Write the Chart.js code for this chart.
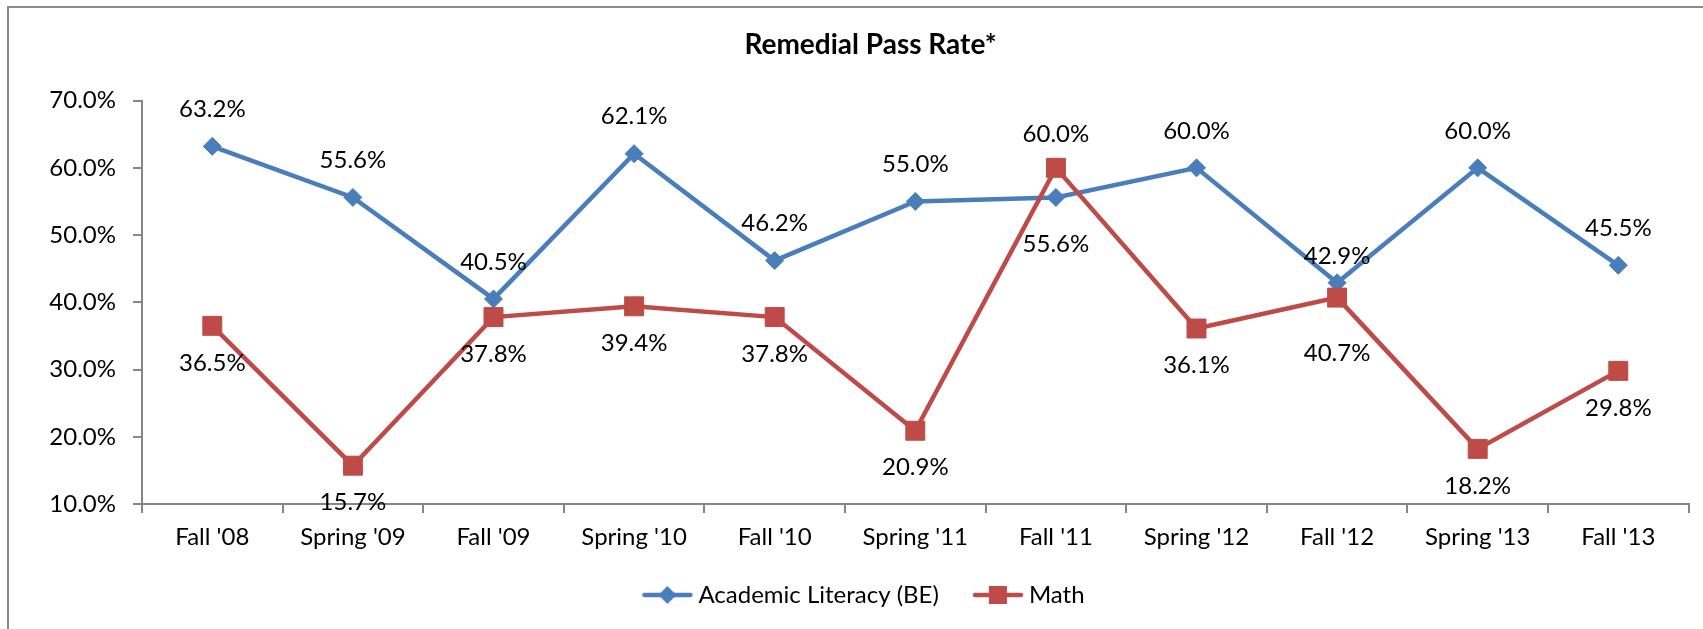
<!DOCTYPE html>
<html>
<head>
<meta charset="utf-8">
<title>Remedial Pass Rate</title>
<script src="https://cdn.jsdelivr.net/npm/chart.js@4"></script>
<style>
  html, body { margin: 0; padding: 0; background: #fff; overflow: hidden; }
  #marco { position: absolute; left: 7px; top: 6px; width: 1720px; height: 660px; border: 2px solid #8a8a8a; }
  #contenedor { position: absolute; left: 0; top: 0; width: 1703px; height: 629px; }
</style>
</head>
<body>
<div id="marco"></div>
<div id="contenedor"><canvas id="tasaAprobacion"></canvas></div>
<script>
// Datos
const periodos = ["Fall '08", "Spring '09", "Fall '09", "Spring '10", "Fall '10", "Spring '11",
                  "Fall '11", "Spring '12", "Fall '12", "Spring '13", "Fall '13"];
const lecturaAcademica = [63.2, 55.6, 40.5, 62.1, 46.2, 55.0, 55.6, 60.0, 42.9, 60.0, 45.5];
const matematicas = [36.5, 15.7, 37.8, 39.4, 37.8, 20.9, 60.0, 36.1, 40.7, 18.2, 29.8];
const marcasY = [10, 20, 30, 40, 50, 60, 70];

const azul = "#4a7ebb";
const rojo = "#be4b48";
const gris = "#868686";

Chart.defaults.font.family = "Lato";
Chart.defaults.color = "#000";

// Distancia vertical de cada etiqueta a su punto
const desplazamiento = (serie, i) => {
    if (i === 6) return serie === 0 ? 47 : -34;   // Fall '11 va al revés
    if (i === 8) return serie === 0 ? -27 : 56;
    return serie === 0 ? -37 : 37;
};

const etiquetasDatos = {
    id: "etiquetasDatos",
    afterDatasetsDraw(chart) {
        const ctx = chart.ctx;
        ctx.save();
        ctx.font = "24px Lato";
        ctx.fillStyle = "#000";
        ctx.textAlign = "center";
        ctx.textBaseline = "middle";
        chart.data.datasets.forEach((ds, s) => {
            chart.getDatasetMeta(s).data.forEach((pt, i) => {
                ctx.fillText(ds.data[i].toFixed(1) + "%", pt.x, pt.y + desplazamiento(s, i));
            });
        });
        ctx.restore();
    }
};

// Leyenda un poco más arriba y a la derecha; título algo a la derecha
const ajustarCajas = {
    id: "ajustarCajas",
    afterLayout(chart) {
        const l = chart.legend;
        l.top -= 12; l.bottom -= 12;
        l.left += 20; l.right += 20;
        const t = chart.titleBlock;
        t.left += 24; t.right += 24;
    }
};

// Muestra de leyenda: línea con marcador, como en Excel
const muestra = (color, forma) => {
    const c = document.createElement("canvas");
    c.width = 52; c.height = 22;
    const ctx = c.getContext("2d");
    ctx.strokeStyle = color;
    ctx.fillStyle = color;
    ctx.lineWidth = 4.5;
    ctx.lineCap = "round";
    ctx.beginPath(); ctx.moveTo(3, 11); ctx.lineTo(49, 11); ctx.stroke();
    ctx.beginPath();
    if (forma === "rombo") {
        ctx.moveTo(26, 2); ctx.lineTo(35, 11); ctx.lineTo(26, 20); ctx.lineTo(17, 11);
    } else {
        ctx.rect(17, 2, 18, 18);
    }
    ctx.fill();
    return c;
};

new Chart(document.getElementById("tasaAprobacion"), {
    type: "line",
    data: {
        labels: periodos,
        datasets: [{
            label: "Academic Literacy (BE)",
            data: lecturaAcademica,
            borderColor: azul,
            backgroundColor: azul,
            borderWidth: 4.5,
            tension: 0,
            pointStyle: "rectRot",
            pointRadius: 9,
            pointHoverRadius: 9,
            pointBorderWidth: 1,
            order: 1
        }, {
            label: "Math",
            data: matematicas,
            borderColor: rojo,
            backgroundColor: rojo,
            borderWidth: 4.5,
            tension: 0,
            pointStyle: "rect",
            pointRadius: 13.4,
            pointHoverRadius: 13.4,
            pointBorderWidth: 1,
            order: 0
        }]
    },
    options: {
        responsive: true,
        maintainAspectRatio: false,
        animation: false,
        layout: { padding: { top: 0, right: 10, bottom: 0, left: 0 } },
        plugins: {
            title: {
                display: true,
                text: "Remedial Pass Rate*",
                font: { size: 28, weight: "bold" },
                padding: { top: 28, bottom: 39 }
            },
            legend: {
                position: "bottom",
                labels: {
                    usePointStyle: true,
                    pointStyleWidth: 38,
                    padding: 40,
                    font: { size: 24 },
                    generateLabels: (chart) => {
                        const items = Chart.defaults.plugins.legend.labels.generateLabels(chart);
                        items.sort((a, b) => a.datasetIndex - b.datasetIndex);
                        items.forEach(it => {
                            it.pointStyle = it.datasetIndex === 0 ? muestra(azul, "rombo") : muestra(rojo, "cuadro");
                        });
                        return items;
                    }
                }
            },
            tooltip: { enabled: false }
        },
        scales: {
            x: {
                offset: true,
                grid: { offset: true, drawOnChartArea: false, drawTicks: true, tickLength: 9, color: gris, lineWidth: 2 },
                border: { color: gris, width: 2 },
                ticks: { font: { size: 24 }, padding: 10, maxRotation: 0 },
                afterFit: (s) => { s.height = 51; }
            },
            y: {
                min: 10,
                max: 70,
                afterBuildTicks: (s) => { s.ticks = marcasY.map(v => ({ value: v })); },
                grid: { drawOnChartArea: false, drawTicks: true, tickLength: 9, color: gris, lineWidth: 2 },
                border: { color: gris, width: 2 },
                ticks: { font: { size: 24 }, padding: 17, callback: (v) => v.toFixed(1) + "%" },
                afterFit: (s) => { s.width = 142; }
            }
        }
    },
    plugins: [etiquetasDatos, ajustarCajas]
});
</script>
</body>
</html>
